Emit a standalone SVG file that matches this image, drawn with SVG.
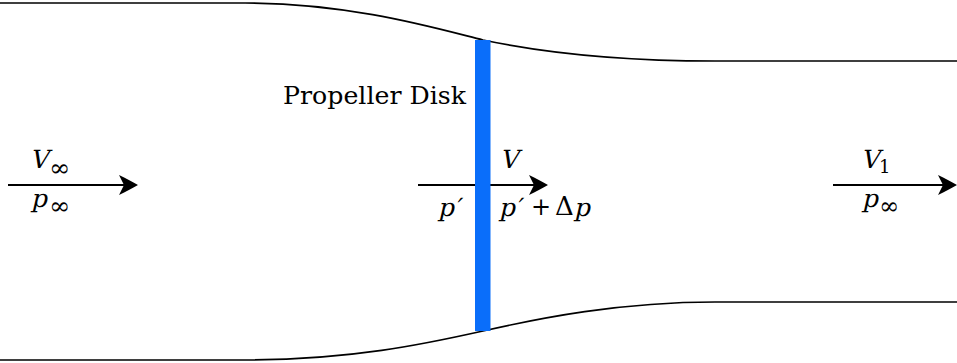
<svg xmlns="http://www.w3.org/2000/svg" width="957" height="363" viewBox="0 0 957 363">
<style>
.wall{fill:none;stroke:#000;stroke-width:1.7}
.shaft{fill:none;stroke:#000;stroke-width:2}
text{font-family:'DejaVu Serif','Liberation Serif',serif;fill:#000}
.m{font-size:25px}
.sub{font-size:24px}
.idx{font-size:18px}
</style>
<defs>
<path id="head" d="M0,0 C-6,-3 -12,-7 -19,-10 L-14,0 L-19,10 C-12,7 -6,3 0,0 Z" fill="#000"/>
</defs>
<g id="streamtube">
<path class="wall" d="M0,3 L245,3 C350,3 435,28 483,40 C540,52 620,61 715,61 L957,61"/>
<path class="wall" d="M0,360 L245,360 C350,360 425,344 483,331 C540,318 620,302 715,302 L957,302"/>
</g>
<g id="connectors">
<line class="shaft" x1="8" y1="185" x2="130" y2="185"/>
<use href="#head" transform="translate(138,185)"/>
<line class="shaft" x1="418" y1="185" x2="540" y2="185"/>
<use href="#head" transform="translate(548,185)"/>
<line class="shaft" x1="833" y1="185" x2="950" y2="185"/>
<use href="#head" transform="translate(957,185)"/>
</g>
<g id="disk">
<rect x="475" y="40" width="15.5" height="291" fill="#0a6efa"/>
<text x="283" y="104" font-size="25" textLength="183" lengthAdjust="spacingAndGlyphs">Propeller Disk</text>
</g>
<g id="inlet">
<g transform="translate(30,168) skewX(-13)"><text class="m" x="0" y="0">V</text></g>
<text class="sub" x="49" y="176" textLength="21" lengthAdjust="spacingAndGlyphs">∞</text>
<g transform="translate(31,207) skewX(-13)"><text class="m" x="0" y="0">p</text></g>
<text class="sub" x="49" y="214" textLength="21" lengthAdjust="spacingAndGlyphs">∞</text>
</g>
<g id="diskLabels">
<g transform="translate(500,168) skewX(-13)"><text class="m" x="0" y="0">V</text></g>
<g transform="translate(438,216) skewX(-13)"><text class="m" x="0" y="0">p′</text></g>
<g transform="translate(499,216) skewX(-13)"><text class="m" x="0" y="0">p′</text></g>
<text x="531" y="215" font-size="24">+</text>
<text x="555" y="215" font-size="26">Δ</text>
<g transform="translate(574,216) skewX(-13)"><text class="m" x="0" y="0">p</text></g>
</g>
<g id="outlet">
<g transform="translate(861,168) skewX(-13)"><text class="m" x="0" y="0">V</text></g>
<text class="idx" x="879" y="173">1</text>
<g transform="translate(862,207) skewX(-13)"><text class="m" x="0" y="0">p</text></g>
<text class="sub" x="879" y="214" textLength="20" lengthAdjust="spacingAndGlyphs">∞</text>
</g>
</svg>
